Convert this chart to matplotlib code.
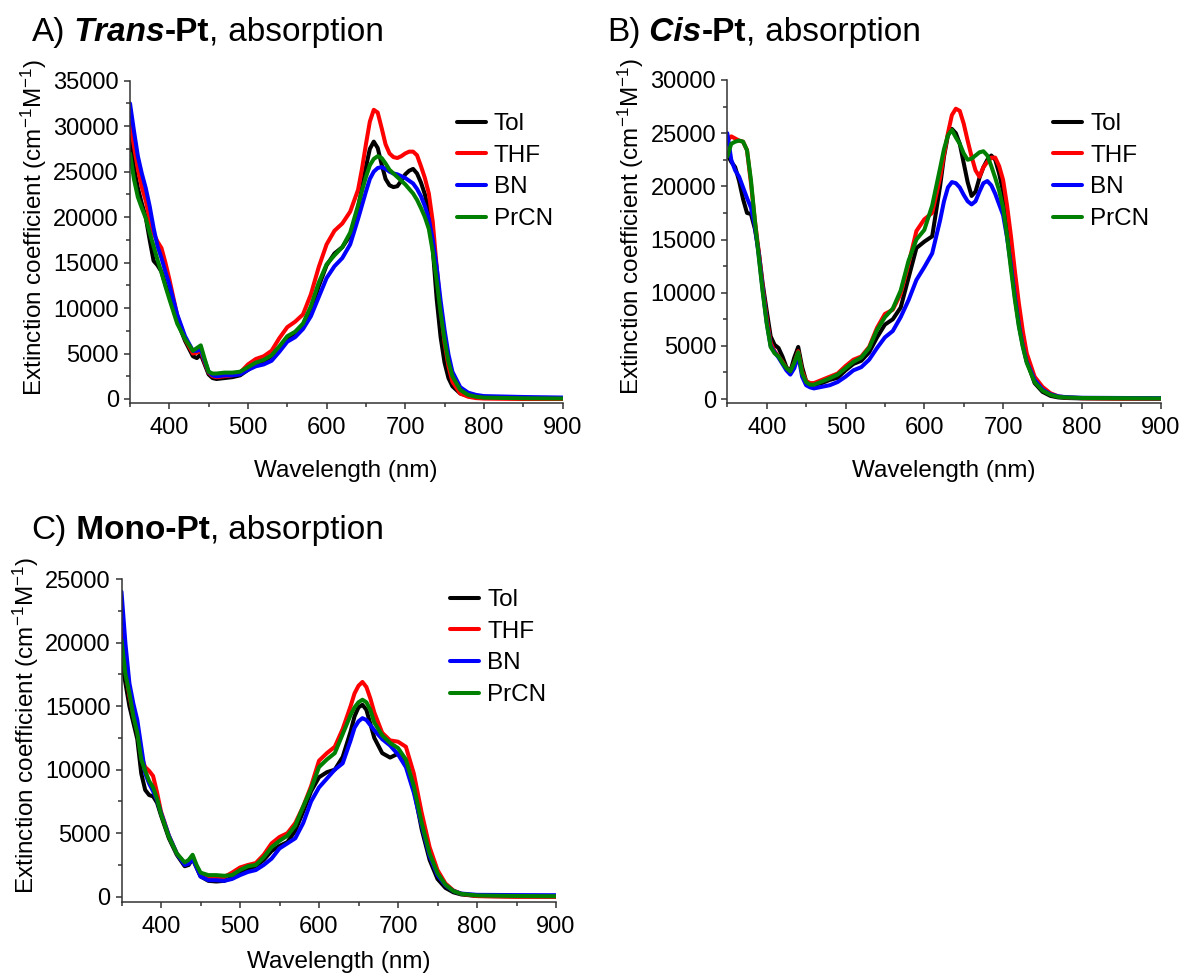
"""
Absorption spectra of Trans-Pt, Cis-Pt and Mono-Pt in four solvents.
Saves out.png.
"""

import matplotlib.pyplot as plt
from matplotlib.ticker import MultipleLocator
from matplotlib.transforms import IdentityTransform

plt.rcParams["font.family"] = "Liberation Sans"
plt.rcParams["mathtext.fontset"] = "custom"
plt.rcParams["mathtext.rm"] = "Liberation Sans"
plt.rcParams["mathtext.it"] = "Liberation Sans:italic"
plt.rcParams["mathtext.bf"] = "Liberation Sans:bold"

SOLVENTS = ["Tol", "THF", "BN", "PrCN"]
COLORS = ["#000000", "#ff0000", "#0000ff", "#008000"]

# ---- A) Trans-Pt ----
wl_a = [350, 355, 360, 365, 370, 375, 380, 385, 390, 395, 400, 410, 420,
        430, 435, 440, 445, 450, 455, 460, 470, 480, 490, 500, 510, 520,
        530, 540, 550, 560, 570, 580, 590, 600, 610, 620, 630, 640, 645,
        650, 655, 660, 665, 670, 675, 680, 685, 690, 695, 700, 705, 710,
        715, 720, 725, 730, 735, 740, 745, 750, 755, 760, 770, 780, 790,
        800, 850, 900]
tol_a = [28800, 25500, 23200, 21500, 20000, 17500, 15200, 14700, 14000, 12600, 11300, 8600, 6400,
         4700, 4500, 4900, 3800, 2700, 2300, 2200, 2300, 2400, 2600, 3200, 3800, 4100,
         4700, 5600, 6600, 7200, 8000, 9800, 12400, 14700, 16000, 16700, 18000, 21000, 23200,
         25500, 27500, 28300, 27600, 25800, 24200, 23500, 23300, 23400, 24000, 24700, 25100, 25300,
         24800, 23800, 22500, 20600, 16500, 11000, 6800, 4000, 2300, 1400, 600, 350, 200,
         150, 100, 80]
thf_a = [30500, 27800, 25300, 23300, 21800, 19800, 18200, 17300, 16600, 15000, 13200, 9200, 6600,
         5000, 5100, 5300, 4000, 2900, 2500, 2400, 2500, 2600, 2900, 3800, 4400, 4700,
         5300, 6700, 7900, 8500, 9300, 11500, 14500, 17000, 18500, 19300, 20600, 23000, 25300,
         28000, 30500, 31800, 31500, 29800, 28000, 27000, 26600, 26500, 26700, 27000, 27200, 27200,
         26800, 25600, 24300, 22600, 19500, 14500, 10000, 6200, 3600, 1900, 600, 250, 100,
         50, 0, 0]
bn_a = [32500, 29500, 26700, 24800, 23200, 21200, 18800, 16800, 15500, 14000, 12600, 9300, 6900,
        5300, 5300, 5500, 4200, 3000, 2600, 2500, 2600, 2600, 2700, 3200, 3600, 3800,
        4200, 5200, 6300, 6800, 7700, 9100, 11200, 13300, 14600, 15500, 17000, 19800, 21300,
        22800, 24200, 25000, 25400, 25500, 25300, 25000, 24800, 24700, 24500, 24300, 24000, 23700,
        23100, 22300, 21200, 19800, 17500, 14500, 10800, 7600, 4900, 3000, 1300, 700, 450,
        320, 220, 160]
prcn_a = [27000, 24200, 22200, 21000, 19900, 18300, 16800, 15300, 13900, 12400, 11000, 8300, 6600,
          5300, 5600, 5900, 4400, 3000, 2800, 2800, 2900, 2900, 3000, 3500, 4000, 4300,
          4800, 5800, 6900, 7400, 8300, 10200, 12800, 14800, 15800, 16700, 18300, 21300, 22900,
          24400, 25700, 26400, 26700, 26500, 25900, 25200, 24800, 24400, 24000, 23600, 23100, 22600,
          21900, 21000, 20000, 18700, 16200, 13000, 9500, 6500, 4100, 2500, 1000, 450, 250,
          150, 80, 50]

# ---- B) Cis-Pt ----
wl_b = [350, 355, 360, 365, 370, 375, 380, 385, 390, 395, 400, 405, 410,
        415, 420, 425, 430, 435, 440, 445, 450, 455, 460, 470, 480, 490,
        500, 510, 520, 530, 540, 550, 560, 570, 580, 590, 600, 610, 620,
        625, 630, 635, 640, 645, 650, 655, 660, 665, 670, 675, 680, 685,
        690, 695, 700, 705, 710, 715, 720, 725, 730, 740, 750, 760, 770,
        780, 800, 850, 900]
tol_b = [23000, 22300, 21800, 20500, 18800, 17500, 17400, 16000, 13800, 10800, 8300, 5900, 5100,
         4800, 4000, 3000, 2600, 3900, 4900, 3000, 1700, 1400, 1350, 1500, 1800, 2000,
         2700, 3300, 3600, 4400, 5800, 7000, 7500, 8600, 11400, 14200, 14800, 15300, 20000,
         22800, 24800, 25400, 25000, 24000, 22200, 20400, 19100, 19500, 20800, 21800, 22500, 22900,
         22500, 21200, 19500, 16800, 13400, 10300, 7700, 5300, 3600, 1500, 680, 300, 150,
         100, 60, 40, 30]
thf_b = [24300, 24700, 24500, 24300, 24200, 23400, 20300, 16800, 13800, 10500, 7600, 5300, 4500,
         4000, 3500, 2900, 2600, 3400, 4500, 2600, 1700, 1500, 1500, 1800, 2100, 2400,
         3100, 3700, 4000, 4900, 6700, 8000, 8400, 9900, 12700, 15800, 16900, 17500, 20800,
         23000, 25000, 26700, 27300, 27100, 25900, 24300, 22800, 21500, 20900, 21800, 22300, 22700,
         22700, 21900, 20600, 18200, 15300, 12000, 9000, 6400, 4300, 2100, 1150, 550, 250,
         150, 80, 50, 40]
bn_b = [25000, 22500, 21500, 20900, 19900, 18900, 18000, 16300, 13500, 10200, 7200, 5000, 4400,
        3900, 3300, 2700, 2300, 2900, 4100, 2100, 1300, 1100, 1000, 1150, 1300, 1600,
        2100, 2700, 3000, 3700, 4800, 5800, 6400, 7700, 9300, 11200, 12400, 13700, 16800,
        18600, 19900, 20400, 20300, 19900, 19200, 18600, 18300, 18600, 19500, 20300, 20500, 20100,
        19300, 18300, 17300, 15200, 12600, 9600, 7000, 5000, 3500, 1800, 900, 450, 250,
        180, 120, 100, 80]
prcn_b = [22800, 24000, 24200, 24300, 24200, 23400, 20600, 16800, 13300, 10000, 7100, 4900, 4300,
          4000, 3400, 2900, 2600, 3400, 4400, 2400, 1600, 1350, 1350, 1650, 1950, 2300,
          2900, 3500, 3900, 4800, 6500, 7700, 8500, 10200, 13000, 15000, 15900, 18200, 21700,
          23500, 24800, 25300, 24600, 24000, 23100, 22500, 22600, 22900, 23200, 23300, 22900, 21900,
          20800, 19600, 18000, 15300, 12200, 9300, 6800, 4900, 3400, 1600, 800, 400, 200,
          150, 100, 80, 60]

# ---- C) Mono-Pt ----
wl_c = [350, 355, 360, 365, 370, 375, 380, 385, 390, 395, 400, 410, 420,
        430, 435, 440, 445, 450, 460, 470, 480, 490, 500, 510, 520, 530,
        540, 550, 560, 570, 580, 590, 600, 610, 620, 630, 640, 645, 650,
        655, 660, 665, 670, 680, 690, 700, 710, 720, 730, 740, 750, 760,
        770, 780, 800, 850, 900]
tol_c = [18600, 16800, 15000, 13700, 12400, 9700, 8400, 8000, 7900, 7400, 6400, 4600, 3300,
         2400, 2500, 3000, 2300, 1600, 1250, 1200, 1250, 1500, 1900, 2200, 2400, 2900,
         3600, 4000, 4300, 5200, 6700, 8300, 9400, 9800, 10000, 11000, 13000, 14200, 14900,
         15100, 14700, 13600, 12500, 11300, 10950, 11250, 10600, 8500, 5300, 2900, 1400, 700,
         350, 180, 60, 20, 10]
thf_c = [21000, 17800, 15800, 14300, 13000, 11000, 10200, 9900, 9500, 8200, 6700, 4800, 3400,
         2600, 2700, 3200, 2400, 1800, 1450, 1450, 1550, 1900, 2300, 2500, 2650, 3300,
         4200, 4700, 5000, 5800, 7100, 8700, 10700, 11300, 11800, 13200, 15000, 16000, 16600,
         16900, 16500, 15600, 14500, 12900, 12300, 12200, 11800, 9700, 6600, 3900, 2100, 1050,
         500, 230, 50, 0, 0]
bn_c = [24000, 19900, 16800, 15200, 13900, 11800, 9700, 8900, 8300, 7600, 6600, 4800, 3400,
        2500, 2600, 3000, 2300, 1600, 1300, 1300, 1250, 1400, 1700, 1950, 2100, 2500,
        3000, 3800, 4200, 4600, 5800, 7500, 8600, 9300, 10000, 10500, 12300, 13300, 13800,
        14050, 13900, 13500, 13100, 12400, 11900, 11200, 10200, 8200, 5600, 3200, 1700, 900,
        450, 250, 150, 130, 120]
prcn_c = [20200, 17500, 16000, 14200, 12900, 10800, 9900, 9100, 8600, 7700, 6500, 4700, 3400,
          2700, 2900, 3300, 2500, 1900, 1700, 1700, 1650, 1700, 2100, 2400, 2500, 3100,
          3900, 4400, 4800, 5600, 7100, 8500, 10200, 10800, 11300, 12800, 14300, 14900, 15300,
          15500, 15300, 14700, 13700, 12700, 12100, 11700, 10800, 8700, 5800, 3400, 1850, 950,
          450, 230, 100, 60, 40]

W, H = 1185, 977
fig = plt.figure(figsize=(W / 100, H / 100), dpi=100)


def add_panel(left, top, right, bottom, wl, series, ymax, ybot, legend_xy):
    ax = fig.add_axes([left / W, 1 - bottom / H, (right - left) / W, (bottom - top) / H])
    for ys, name, c in zip(series, SOLVENTS, COLORS):
        ax.plot(wl, ys, color=c, lw=2.9, label=name,
                solid_joinstyle="round", solid_capstyle="round")
    ax.set_xlim(350, 900)
    ax.set_ylim(ybot, ymax)
    ax.xaxis.set_major_locator(MultipleLocator(100))
    ax.xaxis.set_minor_locator(MultipleLocator(50))
    ax.yaxis.set_major_locator(MultipleLocator(5000))
    ax.yaxis.set_minor_locator(MultipleLocator(2500))
    for s in ("top", "right"):
        ax.spines[s].set_visible(False)
    for s in ("left", "bottom"):
        ax.spines[s].set_color("#333333")
        ax.spines[s].set_linewidth(1.1)
    ax.tick_params(which="both", direction="out", color="#333333", width=1.1, labelsize=17)
    ax.tick_params(which="major", length=4.5)
    ax.tick_params(which="minor", length=3)
    ax.tick_params(axis="x", pad=5.5)
    ax.tick_params(axis="y", pad=3.5)
    ax.legend(loc="upper left", bbox_to_anchor=(legend_xy[0] / W, 1 - legend_xy[1] / H),
              bbox_transform=fig.transFigure, frameon=False, borderpad=0, borderaxespad=0,
              handlelength=1.2, handletextpad=0.33, labelspacing=0.40, fontsize=17.5)
    ylab = "Extinction coefficient (cm$^{-1}$M$^{-1}$)"
    fig.text((left - 96) / W, 1 - (top + bottom - 30) / 2 / H, ylab, rotation=90,
             ha="center", va="center", fontsize=17.5)
    return ax


def rich_title(x, y, parts, size=24):
    # pieces placed one after another, baseline at y (pixels from top)
    r = fig.canvas.get_renderer()
    for text, weight, style in parts:
        t = fig.text(x, H - y, text, transform=IdentityTransform(), fontsize=size,
                     fontweight=weight, fontstyle=style, ha="left", va="baseline")
        x += t.get_window_extent(r).width


add_panel(130, 80.7, 562.5, 403, wl_a, [tol_a, thf_a, bn_a, prcn_a], 35000, -440, (456.7, 113))
add_panel(727.3, 80, 1160.7, 403.3, wl_b, [tol_b, thf_b, bn_b, prcn_b], 30000, -400, (1053, 113))
add_panel(121.5, 579, 556, 901.7, wl_c, [tol_c, thf_c, bn_c, prcn_c], 25000, -390, (450, 589))

fig.text((130 + 562.5) / 2 / W, 1 - 471 / H, "Wavelength (nm)", ha="center", va="center", fontsize=17.5)
fig.text((727.3 + 1160.7) / 2 / W, 1 - 471 / H, "Wavelength (nm)", ha="center", va="center", fontsize=17.5)
fig.text((121.5 + 556) / 2 / W, 1 - 962 / H, "Wavelength (nm)", ha="center", va="center", fontsize=17.5)

rich_title(31.7, 40.7, [("A)", "normal", "normal"), (" Trans", "bold", "italic"),
                        ("-Pt", "bold", "normal"), (",", "normal", "normal"),
                        (" absorption", "normal", "normal")])
rich_title(607, 40.7, [("B)", "normal", "normal"), (" Cis", "bold", "italic"),
                       ("-Pt", "bold", "normal"), (",", "normal", "normal"),
                       (" absorption", "normal", "normal")])
rich_title(31.7, 538.7, [("C)", "normal", "normal"), (" Mono-Pt", "bold", "normal"),
                         (",", "normal", "normal"), (" absorption", "normal", "normal")])

fig.savefig("out.png", dpi=100)
